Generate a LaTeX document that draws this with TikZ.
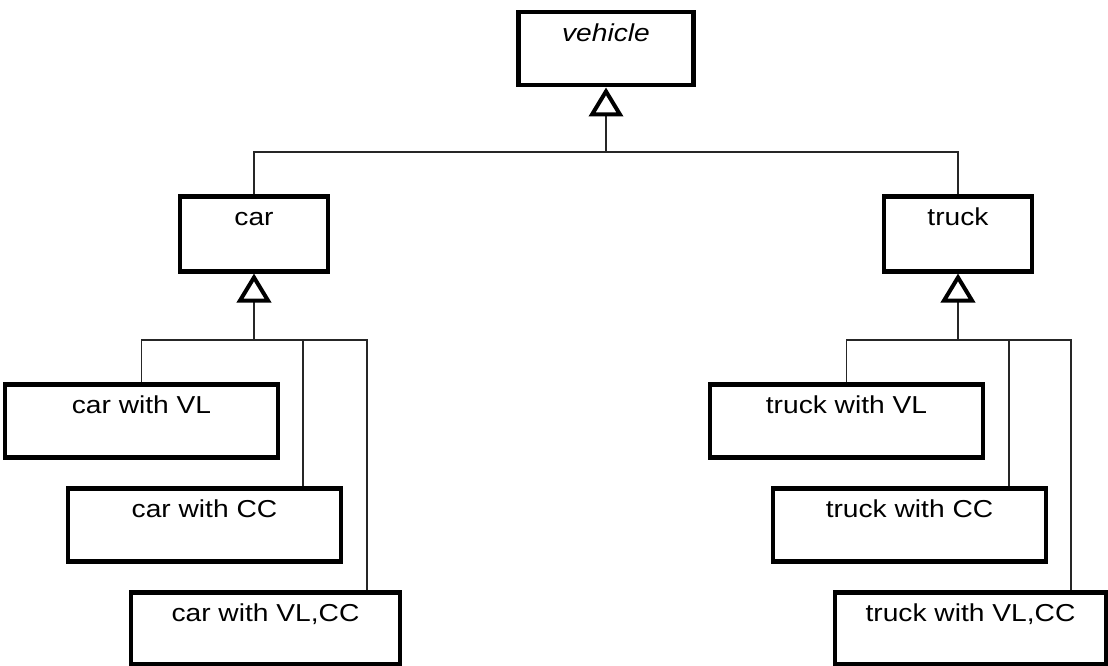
\documentclass[tikz,border=0pt]{standalone}
\usepackage{fontspec}
\setmainfont{Liberation Sans}[FakeStretch=1.15]
\usetikzlibrary{arrows.meta}
\tikzset{
  box/.style={draw=black, line width=4.5pt, inner sep=0pt, anchor=north,
    text height=29pt, text depth=44pt, font=\fontsize{24.5}{28}\selectfont},
  conn/.style={draw=black!85, line width=1.5pt},
  gen/.style={conn, -{Triangle[open, length=29pt, width=34pt, line width=4pt, color=black]}}
}
\begin{document}
\begin{tikzpicture}[x=1pt,y=-1pt]
\useasboundingbox (0,0) rectangle (1108,666);
% nodes
\node[box, minimum width=175pt, text depth=44pt] (veh) at (606,10) {\itshape vehicle};
\node[box, minimum width=148pt, text depth=46pt] (car) at (254,194) {car};
\node[box, minimum width=148pt, text depth=46pt] (truck) at (958,194) {truck};
\node[box, minimum width=273pt] (cvl) at (141.5,382) {car with VL};
\node[box, minimum width=273pt] (ccc) at (204.5,486) {car with CC};
\node[box, minimum width=269pt, text depth=43pt] (cvc) at (265.5,590) {car with VL,CC};
\node[box, minimum width=273pt] (tvl) at (846.5,382) {truck with VL};
\node[box, minimum width=273pt] (tcc) at (909.5,486) {truck with CC};
\node[box, minimum width=271pt, text depth=43pt] (tvc) at (970.5,590) {truck with VL,CC};
% junction coordinates
\coordinate (vj) at (606,152);
\coordinate (vl) at (254,152);
\coordinate (vr) at (958,152);
\coordinate (cj) at (254,340);
\coordinate (c2) at (303,340);
\coordinate (c3) at (367,340);
\coordinate (tj) at (958,340);
\coordinate (t2) at (1009,340);
\coordinate (t3) at (1071,340);
% top level
\draw[conn] (car.north) -- (vl) -- (vr) -- (truck.north);
\draw[gen] (vj) -- (veh.south);
% car subtree
\draw[conn] (cvl.north) |- (c3) -- (c3 |- cvc.north);
\draw[conn] (c2) -- (c2 |- ccc.north);
\draw[gen] (cj) -- (car.south);
% truck subtree
\draw[conn] (tvl.north) |- (t3) -- (t3 |- tvc.north);
\draw[conn] (t2) -- (t2 |- tcc.north);
\draw[gen] (tj) -- (truck.south);
\end{tikzpicture}
\end{document}
